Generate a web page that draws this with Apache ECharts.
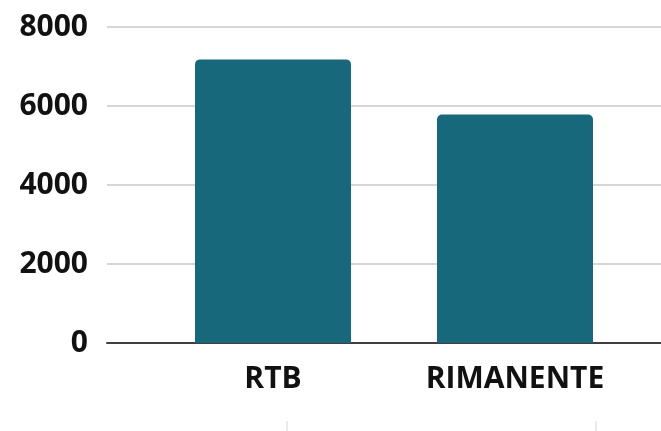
<!DOCTYPE html>
<html>
<head>
<meta charset="utf-8">
<script src="https://cdn.jsdelivr.net/npm/echarts@6/dist/echarts.min.js"></script>
<style>html,body{margin:0;padding:0;background:#fff}#c{width:661px;height:431px}</style>
</head>
<body>
<div id="c"></div>
<script>
const categories = ['RTB', 'RIMANENTE'];
const values = [7180, 5785];
const yTicks = [0, 2000, 4000, 6000, 8000];

const chart = echarts.init(document.getElementById('c'), null, {renderer: 'canvas'});
const font = '"Open Sans", "Noto Sans", sans-serif';
const yMin = yTicks[0], yMax = yTicks[yTicks.length - 1], yStep = yTicks[1] - yTicks[0];
chart.setOption({
  animation: false,
  backgroundColor: '#ffffff',
  grid: [
    {left: 107, right: 0, top: 27, bottom: 88},
    {left: 152, width: 484, top: 27, bottom: 88}
  ],
  xAxis: [
    {gridIndex: 0, type: 'category', data: [''], axisLabel: {show: false}, axisTick: {show: false},
     axisLine: {show: true, lineStyle: {color: '#404040', width: 2}}},
    {gridIndex: 1, type: 'category', data: categories, axisTick: {show: false},
     axisLine: {show: false},
     axisLabel: {color: '#111', fontFamily: font, fontWeight: 'bold', fontSize: 30, margin: 21}}
  ],
  yAxis: [
    {gridIndex: 0, type: 'value', min: yMin, max: yMax, interval: yStep,
     axisLine: {show: false}, axisTick: {show: false},
     axisLabel: {color: '#111', fontFamily: font, fontWeight: 'bold', fontSize: 30, margin: 19,
                 formatter: v => String(v)},
     splitLine: {lineStyle: {color: '#d6d6d6', width: 2}}},
    {gridIndex: 1, type: 'value', min: yMin, max: yMax, interval: yStep, show: false, splitLine: {show: false}}
  ],
  series: [{
    type: 'bar', xAxisIndex: 1, yAxisIndex: 1, data: values, barWidth: 156,
    itemStyle: {color: '#17687a', borderRadius: [5, 5, 0, 0]}
  }],
  graphic: [
    {type: 'line', shape: {x1: 287, y1: 421, x2: 287, y2: 431}, style: {stroke: '#e2e2e2', lineWidth: 1.5}},
    {type: 'line', shape: {x1: 596, y1: 421, x2: 596, y2: 431}, style: {stroke: '#e2e2e2', lineWidth: 1.5}}
  ]
});
</script>
</body>
</html>
